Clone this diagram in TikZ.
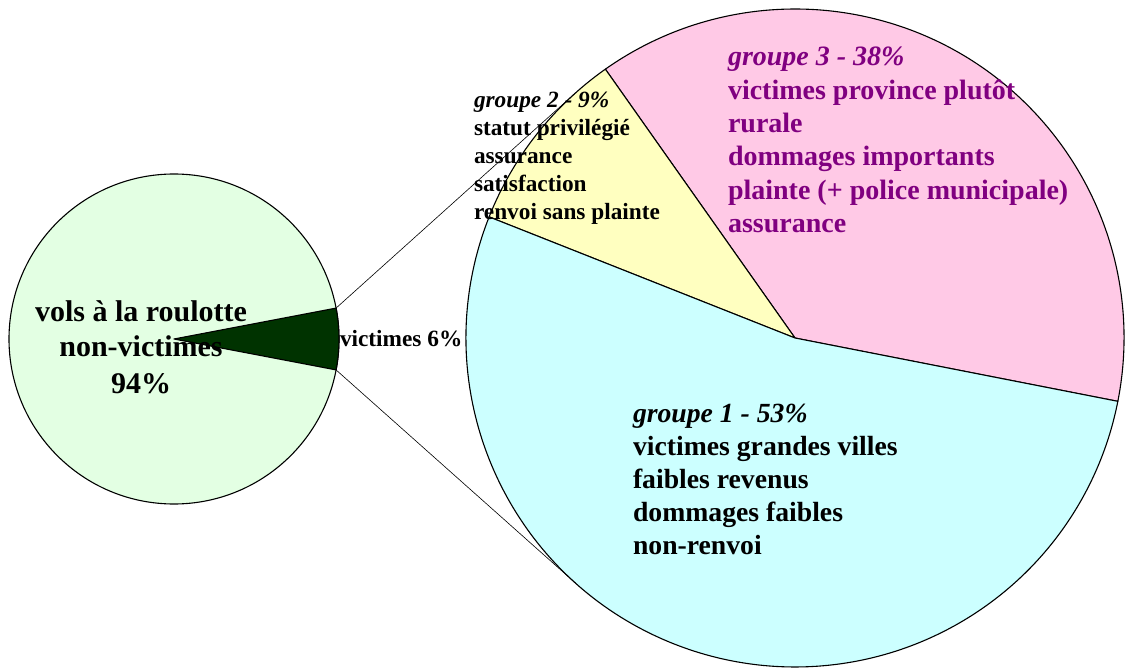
\documentclass[tikz,border=0pt]{standalone}
\usepackage{fontspec}
\setmainfont{Liberation Serif}
\usetikzlibrary{calc}
\definecolor{lgreen}{HTML}{E3FFE3}
\definecolor{dgreen}{HTML}{003300}
\definecolor{gcyan}{HTML}{CCFFFF}
\definecolor{gyellow}{HTML}{FFFFC0}
\definecolor{gpink}{HTML}{FFC9E6}
\definecolor{gpurple}{HTML}{800080}
\begin{document}
\begin{tikzpicture}[x=1pt,y=1pt,
  slice/.style={draw=black,line width=1.1pt,line join=round},
  link/.style={draw=black,line width=0.6pt},
  lbl/.style={inner sep=0pt,outer sep=0pt,anchor=base west,align=left},
  bigfont/.style={font=\fontsize{30}{36}\selectfont\bfseries},
  smallfont/.style={font=\fontsize{23.3}{28}\selectfont\bfseries},
  gfont/.style={font=\fontsize{28}{33.3}\selectfont\bfseries}]
\useasboundingbox (0,-668) rectangle (1125,0);
\def\R{329}
\def\r{165}
\coordinate (bc) at (795,-338);
\coordinate (sc) at (174,-339);
% large pie
\filldraw[slice,fill=gpink] (bc) -- ($(bc)+(-11.1:\R)$) arc[start angle=-11.1,end angle=125.2,radius=\R] -- cycle;
\filldraw[slice,fill=gyellow] (bc) -- ($(bc)+(125.2:\R)$) arc[start angle=125.2,end angle=158.4,radius=\R] -- cycle;
\filldraw[slice,fill=gcyan] (bc) -- ($(bc)+(158.4:\R)$) arc[start angle=158.4,end angle=348.9,radius=\R] -- cycle;
% small pie
\filldraw[slice,fill=lgreen] (sc) circle[radius=\r];
\coordinate (w1) at ($(sc)+(10.8:\r)$);
\coordinate (w2) at ($(sc)+(-10.8:\r)$);
\filldraw[slice,fill=dgreen] (sc) -- (w2) arc[start angle=-10.8,end angle=10.8,radius=\r] -- cycle;
% connectors
\coordinate (t1) at ($(bc)+(131.9:\R)$);
\coordinate (t2) at ($(bc)+(228.3:\R)$);
\draw[link] (w1) -- (t1);
\draw[link] (w2) -- (t2);
% labels (anchor = baseline of the last line)
\node[lbl,bigfont,align=center,anchor=base] (nv) at (141,-393) {vols à la roulotte\\non-victimes\\94\%};
\node[lbl,smallfont] (v6) at (340,-347) {victimes 6\%};
\node[lbl,smallfont] (g2) at (474,-220) {\itshape groupe 2 - 9\%\\statut privilégié\\assurance\\satisfaction\\renvoi sans plainte};
\node[lbl,gfont,text=gpurple] (g3) at (728,-232.5) {\itshape groupe 3 - 38\%\\victimes province plutôt\\rurale\\dommages importants\\plainte (+ police municipale)\\assurance};
\node[lbl,font=\fontsize{27.7}{33}\selectfont\bfseries] (g1) at (633,-554) {\itshape groupe 1 - 53\%\\victimes grandes villes\\faibles revenus\\dommages faibles\\non-renvoi};
\end{tikzpicture}
\end{document}
